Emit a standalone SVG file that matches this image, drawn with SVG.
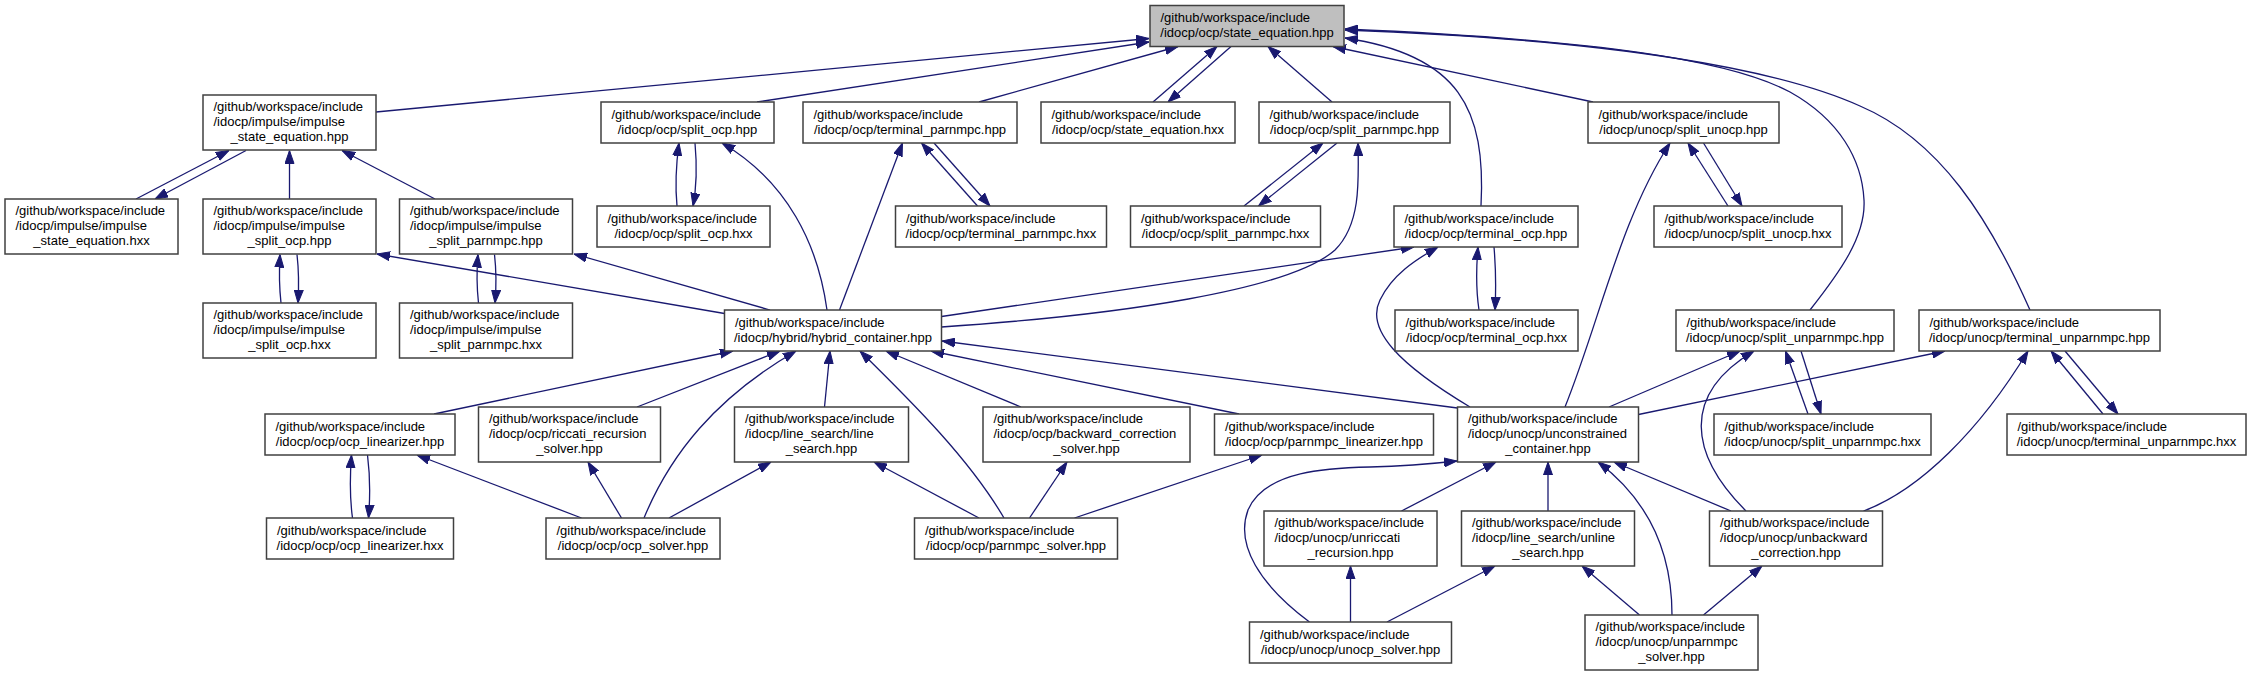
<svg xmlns="http://www.w3.org/2000/svg" width="2251" height="676" viewBox="0 0 2251 676">
<style>
.n rect{fill:#fff;stroke:#404040;stroke-width:1.5}
.m rect{fill:#bfbfbf}
text{font-family:"Liberation Sans",Arial,Helvetica,sans-serif;font-size:13px;fill:#000}
.c{text-anchor:middle}
.e path{fill:none;stroke:#191970;stroke-width:1.3;marker-end:url(#a)}
</style>
<defs>
<marker id="a" markerUnits="userSpaceOnUse" viewBox="0 0 13 10" markerWidth="13" markerHeight="10" refX="13" refY="5" orient="auto">
<path d="M0,0.5 L13,5 L0,9.5 z" fill="#191970" stroke="#191970" stroke-width="1"/>
</marker>
</defs>
<rect width="2251" height="676" fill="#fff"/>
<g class="e" id="edges">
<path d="M376,112 L1149,38.5"/>
<path d="M757,102 L1149,42"/>
<path d="M979,102 L1178,46.5"/>
<path d="M1153,102 L1217,46.5"/>
<path d="M1231,46.5 L1168,102"/>
<path d="M1332,102 L1268,46.5"/>
<path d="M1481,206 C1486,110 1460,55 1345,38"/>
<path d="M1593,102 L1333,46.5"/>
<path d="M1810,310 C1840,272 1866,236 1864,200 C1862,160 1840,120 1790,92 C1730,60 1600,40 1345,29"/>
<path d="M2030,310 C1990,220 1940,140 1860,106 C1780,70 1620,40 1345,30"/>
<path d="M136,199 L229,150.5"/>
<path d="M246,150.5 L155,199"/>
<path d="M289.5,199 L289.5,150.5"/>
<path d="M435,199 L342,150.5"/>
<path d="M677,206 C675,185 676,165 679,143"/>
<path d="M695,143 C697,165 697,185 693,206"/>
<path d="M827,310 C818,245 788,182 722,143"/>
<path d="M839.5,310 L902.5,143"/>
<path d="M977.5,206 L921.5,143"/>
<path d="M934,143 L990,206"/>
<path d="M1244,206 L1323,143"/>
<path d="M1337,143 L1258.5,206"/>
<path d="M941.5,327 C1120,315 1290,290 1335,250 C1360,225 1359,185 1358,143"/>
<path d="M941.5,316.5 L1414,247"/>
<path d="M1470,407 C1400,365 1365,330 1380,300 C1392,275 1415,260 1438,247"/>
<path d="M1479,310 C1476,290 1476,270 1478,247"/>
<path d="M1494,247 C1496,270 1496,290 1495,310"/>
<path d="M1728,206 L1688,143"/>
<path d="M1703.5,143 L1742,206"/>
<path d="M1565,407 C1600,320 1620,220 1670,143"/>
<path d="M281,303 C279,285 279,272 280,254.5"/>
<path d="M297,254.5 C299,272 299,285 298,303"/>
<path d="M478.5,303 C476.5,285 476.5,272 478,254.5"/>
<path d="M494.5,254.5 C496.5,272 496.5,285 495,303"/>
<path d="M724.5,313.5 L377,254"/>
<path d="M770,310 L574,254"/>
<path d="M434,414 L733,351"/>
<path d="M637,407 L780,351"/>
<path d="M644,518 C670,455 715,398 796,351"/>
<path d="M824.5,407 L830,351"/>
<path d="M1004,518 C970,460 915,405 860,351"/>
<path d="M1021,407 L886,351"/>
<path d="M1239,414 L931,351"/>
<path d="M1457.5,408 L942,341"/>
<path d="M352.5,518 C350,500 350,475 351.5,455"/>
<path d="M367.5,455 C370,475 370,500 368.5,518"/>
<path d="M581.5,518 L417,455"/>
<path d="M621.5,518 L588,462"/>
<path d="M669,518 L771,462"/>
<path d="M979,518 L874,462"/>
<path d="M1029.5,518 L1067,462"/>
<path d="M1074.5,518 L1262,455"/>
<path d="M1609,407 L1740,351"/>
<path d="M1638.5,414.5 L1945,351"/>
<path d="M1808,414 L1785.5,351"/>
<path d="M1801,351 L1821,414"/>
<path d="M2103,414 L2051,351"/>
<path d="M2065,351 L2118,414"/>
<path d="M1746,511 C1690,455 1680,395 1754,351"/>
<path d="M1863.5,511 C1920,490 1980,430 2028,351"/>
<path d="M1731,511 L1614,462"/>
<path d="M1548,511 L1548,462"/>
<path d="M1672,615 C1672,560 1655,505 1598,462"/>
<path d="M1401.5,511 L1496,462"/>
<path d="M1309.5,622 C1260,585 1235,545 1248,510 C1265,470 1330,468 1370,467 C1410,466 1430,464 1457,461"/>
<path d="M1350.5,622 L1350.5,566"/>
<path d="M1387,622 L1495,566"/>
<path d="M1639.5,615 L1582,566"/>
<path d="M1703.5,615 L1762,566"/>
</g>
<g id="n_state_equation_hpp" class="n m"><rect x="1150" y="5.5" width="194" height="41"/><text x="1160.5" y="22">/github/workspace/include</text><text class="c" x="1247" y="37">/idocp/ocp/state_equation.hpp</text></g>
<g id="n_impulse_state_equation_hpp" class="n"><rect x="203" y="95" width="173" height="55"/><text x="213.5" y="111">/github/workspace/include</text><text x="213.5" y="126">/idocp/impulse/impulse</text><text class="c" x="289.5" y="141">_state_equation.hpp</text></g>
<g id="n_split_ocp_hpp" class="n"><rect x="601" y="102" width="173" height="41"/><text x="611.5" y="118.5">/github/workspace/include</text><text class="c" x="687.5" y="133.5">/idocp/ocp/split_ocp.hpp</text></g>
<g id="n_terminal_parnmpc_hpp" class="n"><rect x="803" y="102" width="214" height="41"/><text x="813.5" y="118.5">/github/workspace/include</text><text class="c" x="910" y="133.5">/idocp/ocp/terminal_parnmpc.hpp</text></g>
<g id="n_state_equation_hxx" class="n"><rect x="1041" y="102" width="194" height="41"/><text x="1051.5" y="118.5">/github/workspace/include</text><text class="c" x="1138" y="133.5">/idocp/ocp/state_equation.hxx</text></g>
<g id="n_split_parnmpc_hpp" class="n"><rect x="1259" y="102" width="191" height="41"/><text x="1269.5" y="118.5">/github/workspace/include</text><text class="c" x="1354.5" y="133.5">/idocp/ocp/split_parnmpc.hpp</text></g>
<g id="n_split_unocp_hpp" class="n"><rect x="1588" y="102" width="191" height="41"/><text x="1598.5" y="118.5">/github/workspace/include</text><text class="c" x="1683.5" y="133.5">/idocp/unocp/split_unocp.hpp</text></g>
<g id="n_impulse_state_equation_hxx" class="n"><rect x="5" y="199" width="173" height="55"/><text x="15.5" y="215">/github/workspace/include</text><text x="15.5" y="230">/idocp/impulse/impulse</text><text class="c" x="91.5" y="245">_state_equation.hxx</text></g>
<g id="n_impulse_split_ocp_hpp" class="n"><rect x="203" y="199" width="173" height="55"/><text x="213.5" y="215">/github/workspace/include</text><text x="213.5" y="230">/idocp/impulse/impulse</text><text class="c" x="289.5" y="245">_split_ocp.hpp</text></g>
<g id="n_impulse_split_parnmpc_hpp" class="n"><rect x="399.5" y="199" width="173" height="55"/><text x="410" y="215">/github/workspace/include</text><text x="410" y="230">/idocp/impulse/impulse</text><text class="c" x="486" y="245">_split_parnmpc.hpp</text></g>
<g id="n_split_ocp_hxx" class="n"><rect x="597" y="206" width="173" height="41"/><text x="607.5" y="222.5">/github/workspace/include</text><text class="c" x="683.5" y="237.5">/idocp/ocp/split_ocp.hxx</text></g>
<g id="n_terminal_parnmpc_hxx" class="n"><rect x="895.5" y="206" width="211" height="41"/><text x="906" y="222.5">/github/workspace/include</text><text class="c" x="1001" y="237.5">/idocp/ocp/terminal_parnmpc.hxx</text></g>
<g id="n_split_parnmpc_hxx" class="n"><rect x="1130.5" y="206" width="190" height="41"/><text x="1141" y="222.5">/github/workspace/include</text><text class="c" x="1225.5" y="237.5">/idocp/ocp/split_parnmpc.hxx</text></g>
<g id="n_terminal_ocp_hpp" class="n"><rect x="1394" y="206" width="184" height="41"/><text x="1404.5" y="222.5">/github/workspace/include</text><text class="c" x="1486" y="237.5">/idocp/ocp/terminal_ocp.hpp</text></g>
<g id="n_split_unocp_hxx" class="n"><rect x="1654" y="206" width="188" height="41"/><text x="1664.5" y="222.5">/github/workspace/include</text><text class="c" x="1748" y="237.5">/idocp/unocp/split_unocp.hxx</text></g>
<g id="n_impulse_split_ocp_hxx" class="n"><rect x="203" y="303" width="173" height="55"/><text x="213.5" y="319">/github/workspace/include</text><text x="213.5" y="334">/idocp/impulse/impulse</text><text class="c" x="289.5" y="349">_split_ocp.hxx</text></g>
<g id="n_impulse_split_parnmpc_hxx" class="n"><rect x="399.5" y="303" width="173" height="55"/><text x="410" y="319">/github/workspace/include</text><text x="410" y="334">/idocp/impulse/impulse</text><text class="c" x="486" y="349">_split_parnmpc.hxx</text></g>
<g id="n_hybrid_container_hpp" class="n"><rect x="724.5" y="310" width="217" height="41"/><text x="735" y="326.5">/github/workspace/include</text><text class="c" x="833" y="341.5">/idocp/hybrid/hybrid_container.hpp</text></g>
<g id="n_terminal_ocp_hxx" class="n"><rect x="1395" y="310" width="183" height="41"/><text x="1405.5" y="326.5">/github/workspace/include</text><text class="c" x="1486.5" y="341.5">/idocp/ocp/terminal_ocp.hxx</text></g>
<g id="n_split_unparnmpc_hpp" class="n"><rect x="1676" y="310" width="218" height="41"/><text x="1686.5" y="326.5">/github/workspace/include</text><text class="c" x="1785" y="341.5">/idocp/unocp/split_unparnmpc.hpp</text></g>
<g id="n_terminal_unparnmpc_hpp" class="n"><rect x="1919" y="310" width="241" height="41"/><text x="1929.5" y="326.5">/github/workspace/include</text><text class="c" x="2039.5" y="341.5">/idocp/unocp/terminal_unparnmpc.hpp</text></g>
<g id="n_ocp_linearizer_hpp" class="n"><rect x="265" y="414" width="190" height="41"/><text x="275.5" y="430.5">/github/workspace/include</text><text class="c" x="360" y="445.5">/idocp/ocp/ocp_linearizer.hpp</text></g>
<g id="n_riccati_recursion_solver_hpp" class="n"><rect x="478.5" y="407" width="182" height="55"/><text x="489" y="423">/github/workspace/include</text><text x="489" y="438">/idocp/ocp/riccati_recursion</text><text class="c" x="569.5" y="453">_solver.hpp</text></g>
<g id="n_line_search_hpp" class="n"><rect x="734.5" y="407" width="174" height="55"/><text x="745" y="423">/github/workspace/include</text><text x="745" y="438">/idocp/line_search/line</text><text class="c" x="821.5" y="453">_search.hpp</text></g>
<g id="n_backward_correction_solver_hpp" class="n"><rect x="983" y="407" width="207" height="55"/><text x="993.5" y="423">/github/workspace/include</text><text x="993.5" y="438">/idocp/ocp/backward_correction</text><text class="c" x="1086.5" y="453">_solver.hpp</text></g>
<g id="n_parnmpc_linearizer_hpp" class="n"><rect x="1214.5" y="414" width="219" height="41"/><text x="1225" y="430.5">/github/workspace/include</text><text class="c" x="1324" y="445.5">/idocp/ocp/parnmpc_linearizer.hpp</text></g>
<g id="n_unconstrained_container_hpp" class="n"><rect x="1457.5" y="407" width="181" height="55"/><text x="1468" y="423">/github/workspace/include</text><text x="1468" y="438">/idocp/unocp/unconstrained</text><text class="c" x="1548" y="453">_container.hpp</text></g>
<g id="n_split_unparnmpc_hxx" class="n"><rect x="1714" y="414" width="217" height="41"/><text x="1724.5" y="430.5">/github/workspace/include</text><text class="c" x="1822.5" y="445.5">/idocp/unocp/split_unparnmpc.hxx</text></g>
<g id="n_terminal_unparnmpc_hxx" class="n"><rect x="2007" y="414" width="239" height="41"/><text x="2017.5" y="430.5">/github/workspace/include</text><text class="c" x="2126.5" y="445.5">/idocp/unocp/terminal_unparnmpc.hxx</text></g>
<g id="n_ocp_linearizer_hxx" class="n"><rect x="266.5" y="518" width="187" height="41"/><text x="277" y="534.5">/github/workspace/include</text><text class="c" x="360" y="549.5">/idocp/ocp/ocp_linearizer.hxx</text></g>
<g id="n_ocp_solver_hpp" class="n"><rect x="546" y="518" width="174" height="41"/><text x="556.5" y="534.5">/github/workspace/include</text><text class="c" x="633" y="549.5">/idocp/ocp/ocp_solver.hpp</text></g>
<g id="n_parnmpc_solver_hpp" class="n"><rect x="914.5" y="518" width="203" height="41"/><text x="925" y="534.5">/github/workspace/include</text><text class="c" x="1016" y="549.5">/idocp/ocp/parnmpc_solver.hpp</text></g>
<g id="n_unriccati_recursion_hpp" class="n"><rect x="1264" y="511" width="173" height="55"/><text x="1274.5" y="527">/github/workspace/include</text><text x="1274.5" y="542">/idocp/unocp/unriccati</text><text class="c" x="1350.5" y="557">_recursion.hpp</text></g>
<g id="n_unline_search_hpp" class="n"><rect x="1461.5" y="511" width="173" height="55"/><text x="1472" y="527">/github/workspace/include</text><text x="1472" y="542">/idocp/line_search/unline</text><text class="c" x="1548" y="557">_search.hpp</text></g>
<g id="n_unbackward_correction_hpp" class="n"><rect x="1709.5" y="511" width="173" height="55"/><text x="1720" y="527">/github/workspace/include</text><text x="1720" y="542">/idocp/unocp/unbackward</text><text class="c" x="1796" y="557">_correction.hpp</text></g>
<g id="n_unocp_solver_hpp" class="n"><rect x="1249.5" y="622" width="202" height="41"/><text x="1260" y="638.5">/github/workspace/include</text><text class="c" x="1350.5" y="653.5">/idocp/unocp/unocp_solver.hpp</text></g>
<g id="n_unparnmpc_solver_hpp" class="n"><rect x="1585" y="615" width="173" height="55"/><text x="1595.5" y="631">/github/workspace/include</text><text x="1595.5" y="646">/idocp/unocp/unparnmpc</text><text class="c" x="1671.5" y="661">_solver.hpp</text></g>
</svg>
